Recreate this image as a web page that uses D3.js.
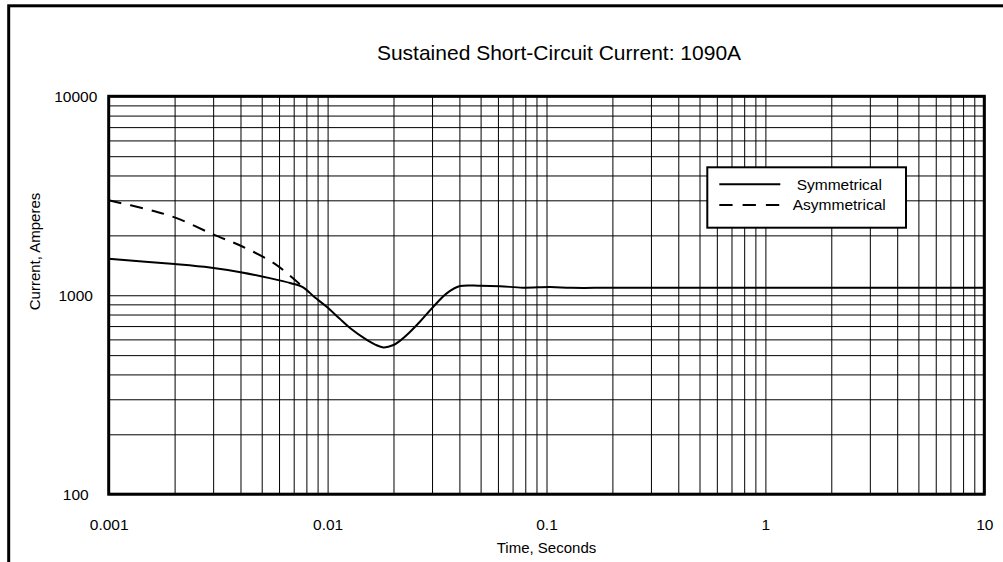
<!DOCTYPE html>
<html>
<head>
<meta charset="utf-8">
<script src="https://cdn.jsdelivr.net/npm/d3@7"></script>
<style>
	body { margin: 0; background: #fff; }
	svg { display: block; font-family: Arial, "Liberation Sans", sans-serif; }
</style>
</head>
<body>
<script>
// chart data
var timeSym = [0.001, 0.002, 0.0029, 0.004, 0.0055, 0.0068, 0.0077, 0.0087, 0.0099, 0.0113, 0.0127, 0.0151, 0.0165, 0.018, 0.02, 0.0214, 0.023, 0.0264, 0.0304, 0.035, 0.0403, 0.05, 0.0613, 0.078, 0.104, 0.13, 0.2, 1, 10];
var ampSym = [1525, 1435, 1378, 1305, 1216, 1150, 1100, 980, 875, 766, 682, 596, 565, 547, 562, 590, 631, 736, 875, 1022, 1112, 1115, 1110, 1092, 1100, 1090, 1090, 1090, 1090];

var timeAsym = [0.001, 0.0015, 0.002, 0.003, 0.0041, 0.0057, 0.0071, 0.0077];
var ampAsym = [3000, 2702, 2463, 2023, 1753, 1445, 1192, 1100];

var xTickValues = [0.001, 0.01, 0.1, 1, 10];
var xTickLabels = ["0.001", "0.01", "0.1", "1", "10"];
var yTickValues = [100, 1000, 10000];
var yTickLabels = ["100", "1000", "10000"];

var seriesNames = ["Symmetrical", "Asymmetrical"];
var title = "Sustained Short-Circuit Current: 1090A";

var width = 1003,
		height = 562,
		plotLeft = 108.7,
		plotTop = 96.3,
		plotRight = 984.3,
		plotBottom = 494.2;

var svg = d3.select("body").append("svg")
	.attr("width", width)
	.attr("height", height);

// outer frame
svg.append("rect")
	.attr("x", 8.7)
	.attr("y", 5.8)
	.attr("width", 1100)
	.attr("height", 700)
	.style("fill", "none")
	.style("stroke", "#000")
	.style("stroke-width", 3);

var x = d3.scaleLog().domain([0.001, 10]).range([plotLeft, plotRight]);
var y = d3.scaleLog().domain([100, 10000]).range([plotBottom, plotTop]);

// minor grid values 1..9 per decade
var xGrid = [];
for (var e = -3; e < 1; e++) {
	for (var k = 1; k < 10; k++) xGrid.push(k * Math.pow(10, e));
}
xGrid.push(10);
var yGrid = [];
for (e = 2; e < 4; e++) {
	for (k = 1; k < 10; k++) yGrid.push(k * Math.pow(10, e));
}
yGrid.push(10000);

/************ GRID ************/
svg.append("g")
	.attr("transform", "translate(0," + plotBottom + ")")
	.call(d3.axisBottom(x).tickValues(xGrid).tickSize(-(plotBottom - plotTop)).tickFormat(""))
	.call(function (g) { g.select(".domain").remove(); })
	.selectAll("line")
	.style("stroke", "#000")
	.style("stroke-width", 1);

svg.append("g")
	.attr("transform", "translate(" + plotLeft + ",0)")
	.call(d3.axisLeft(y).tickValues(yGrid).tickSize(-(plotRight - plotLeft)).tickFormat(""))
	.call(function (g) { g.select(".domain").remove(); })
	.selectAll("line")
	.style("stroke", "#000")
	.style("stroke-width", 1);

/************ TICK LABELS ************/
var xAxis = svg.append("g")
	.attr("transform", "translate(0," + plotBottom + ")")
	.call(d3.axisBottom(x).tickValues(xTickValues).tickSize(0)
		.tickFormat(function (d, i) { return xTickLabels[i]; }));
xAxis.select(".domain").remove();
xAxis.selectAll("text")
	.attr("y", 30)
	.attr("dy", "0.35em")
	.style("font-size", "15.5px")
	.style("font-family", "Arial, 'Liberation Sans', sans-serif")
	.style("fill", "#000");

var yAxis = svg.append("g")
	.attr("transform", "translate(" + plotLeft + ",0)")
	.call(d3.axisLeft(y).tickValues(yTickValues).tickSize(0)
		.tickFormat(function (d, i) { return yTickLabels[i]; }));
yAxis.select(".domain").remove();
yAxis.selectAll("text")
	.attr("x", -33)
	.attr("dy", "0.35em")
	.attr("text-anchor", "middle")
	.style("font-size", "15.5px")
	.style("font-family", "Arial, 'Liberation Sans', sans-serif")
	.style("fill", "#000");

/************ CURVES ************/
var line = d3.line()
	.x(function (d) { return x(d[0]); })
	.y(function (d) { return y(d[1]); })
	.curve(d3.curveCatmullRom.alpha(0.5));

var symData = timeSym.map(function (t, i) { return [t, ampSym[i]]; });
var asymData = timeAsym.map(function (t, i) { return [t, ampAsym[i]]; });

svg.append("path")
	.datum(asymData)
	.attr("d", line)
	.style("fill", "none")
	.style("stroke", "#000")
	.style("stroke-width", 2)
	.style("stroke-dasharray", "13,9");

svg.append("path")
	.datum(symData)
	.attr("d", line)
	.style("fill", "none")
	.style("stroke", "#000")
	.style("stroke-width", 2);

// plot border
svg.append("rect")
	.attr("x", plotLeft)
	.attr("y", plotTop)
	.attr("width", plotRight - plotLeft)
	.attr("height", plotBottom - plotTop)
	.style("fill", "none")
	.style("stroke", "#000")
	.style("stroke-width", 3);

/************ LEGEND ************/
var legend = svg.append("g").attr("transform", "translate(707.3,167.3)");
legend.append("rect")
	.attr("width", 198.7)
	.attr("height", 60.4)
	.style("fill", "#fff")
	.style("stroke", "#000")
	.style("stroke-width", 2);

seriesNames.forEach(function (name, i) {
	var ly = 17 + i * 20.7;
	legend.append("line")
		.attr("x1", 12)
		.attr("x2", 73)
		.attr("y1", ly)
		.attr("y2", ly)
		.style("stroke", "#000")
		.style("stroke-width", 2)
		.style("stroke-dasharray", i === 1 ? "13.3,10" : null);
	legend.append("text")
		.attr("x", 132)
		.attr("y", ly + 5.5)
		.attr("text-anchor", "middle")
		.style("font-size", "15.5px")
		.text(name);
});

/************ TITLES ************/
svg.append("text")
	.attr("x", 559)
	.attr("y", 60)
	.attr("text-anchor", "middle")
	.style("font-size", "21px")
	.text(title);

svg.append("text")
	.attr("x", (plotLeft + plotRight) / 2)
	.attr("y", 553)
	.attr("text-anchor", "middle")
	.style("font-size", "15px")
	.text("Time, Seconds");

svg.append("text")
	.attr("transform", "translate(39.5,251.5) rotate(-90)")
	.attr("text-anchor", "middle")
	.style("font-size", "15px")
	.text("Current, Amperes");
</script>
</body>
</html>
